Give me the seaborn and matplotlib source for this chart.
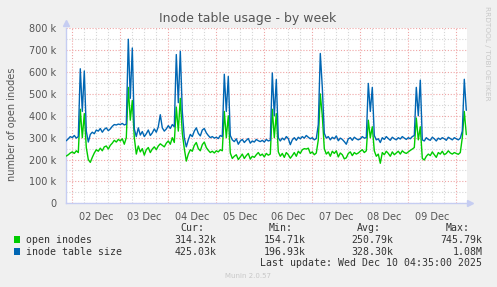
import matplotlib
matplotlib.use("Agg")
import matplotlib.pyplot as plt
import matplotlib.dates as mdates
from matplotlib.ticker import FuncFormatter, MultipleLocator
from matplotlib.patches import Rectangle
import numpy as np
import pandas as pd
import seaborn as sns

# ---------------- data (hourly, thousands of inodes) ----------------
start_time = "2025-12-01 21:00"
series_names = ["open inodes", "inode table size"]
series_colors = ["#00CC00", "#0066B3"]

# Dec 1 21:00-23:00, then Dec 2 ... Dec 9 (24 h each), then Dec 10 00:00-05:00
open_inodes = [
    216, 222, 230,
    # Dec 2
    235, 228, 240, 232, 430, 300, 410, 255, 200, 187, 210, 230,
    245, 238, 252, 240, 258, 262, 248, 265, 275, 288, 280, 292,
    # Dec 3
    285, 295, 270, 300, 530, 380, 470, 300, 225, 262, 235, 250,
    220, 245, 255, 232, 248, 258, 245, 262, 272, 265, 258, 275,
    # Dec 4
    285, 270, 300, 278, 440, 330, 480, 320, 250, 193, 225, 245,
    238, 265, 278, 250, 240, 268, 280, 255, 242, 232, 238, 230,
    # Dec 5
    240, 235, 245, 240, 420, 300, 400, 230, 205, 215, 222, 200,
    212, 225, 205, 218, 228, 202, 215, 210, 222, 232, 218, 225,
    # Dec 6
    212, 228, 220, 225, 430, 300, 410, 235, 215, 228, 210, 232,
    222, 206, 218, 232, 215, 238, 228, 245, 250, 248, 252, 228,
    # Dec 7
    235, 222, 230, 290, 500, 400, 250, 225, 235, 215, 238, 228,
    240, 212, 230, 222, 203, 208, 228, 235, 218, 232, 225, 230,
    # Dec 8
    238, 245, 232, 240, 380, 300, 350, 240, 215, 225, 183, 232,
    222, 238, 228, 215, 235, 222, 230, 238, 225, 240, 232, 228,
    # Dec 9
    235, 242, 248, 255, 390, 290, 350, 205, 198, 215, 225, 218,
    235, 222, 210, 232, 225, 238, 222, 228, 240, 230, 225, 232,
    # Dec 10
    228, 224, 232, 300, 420, 314,
]

inode_table_size = [
    286, 295, 305,
    # Dec 2
    300, 310, 298, 305, 615, 420, 605, 330, 280, 315, 325, 318,
    335, 330, 342, 325, 338, 345, 332, 340, 352, 360, 358, 362,
    # Dec 3
    360, 365, 358, 362, 750, 480, 710, 340, 305, 345, 312, 328,
    305, 318, 335, 310, 322, 340, 325, 350, 405, 345, 330, 340,
    # Dec 4
    355, 342, 360, 350, 680, 460, 695, 420, 300, 258, 290, 315,
    305, 330, 345, 320, 308, 335, 342, 322, 310, 300, 305, 298,
    # Dec 5
    302, 296, 310, 305, 590, 420, 580, 310, 290, 282, 295, 270,
    285, 292, 278, 288, 296, 275, 285, 280, 292, 286, 282, 288,
    # Dec 6
    280, 292, 285, 288, 596, 400, 566, 300, 285, 298, 290, 305,
    296, 268, 290, 300, 288, 302, 295, 305, 298, 310, 302, 295,
    # Dec 7
    300, 290, 296, 360, 685, 530, 320, 298, 305, 290, 302, 295,
    308, 286, 298, 292, 282, 270, 295, 300, 288, 302, 295, 290,
    # Dec 8
    295, 305, 298, 300, 548, 420, 530, 310, 290, 295, 278, 300,
    292, 305, 296, 288, 302, 295, 290, 300, 294, 305, 298, 292,
    # Dec 9
    300, 295, 305, 310, 530, 400, 563, 290, 285, 300, 292, 288,
    302, 295, 285, 298, 292, 300, 295, 288, 302, 296, 290, 300,
    # Dec 10
    295, 290, 298, 330, 567, 425,
]

legend_cur = ["314.32k", "425.03k"]
legend_min = ["154.71k", "196.93k"]
legend_avg = ["250.79k", "328.30k"]
legend_max = ["745.79k", "1.08M"]

title = "Inode table usage - by week"
y_label = "number of open inodes"
last_update = "Last update: Wed Dec 10 04:35:00 2025"

# ---------------- build frame ----------------
times = pd.date_range(start_time, periods=len(open_inodes), freq="h")
df = pd.concat([
    pd.DataFrame({"time": times, "value": np.array(open_inodes) * 1000.0, "series": series_names[0]}),
    pd.DataFrame({"time": times, "value": np.array(inode_table_size) * 1000.0, "series": series_names[1]}),
], ignore_index=True)

# ---------------- figure ----------------
sns.set_style("white")
plt.rcParams["font.family"] = ["DejaVu Sans"]

W, H = 497, 287
fig = plt.figure(figsize=(W / 100, H / 100), dpi=100)
fig.patch.set_facecolor("#F0F0F0")

def fx(px):
    return px / W

def fy(py):
    return 1 - py / H

ax_l, ax_r, ax_t, ax_b = 66, 467, 28.3, 203.3
ax = fig.add_axes([fx(ax_l), fy(ax_b), fx(ax_r - ax_l), (ax_b - ax_t) / H])
ax.set_facecolor("white")

sns.lineplot(data=df, x="time", y="value", hue="series",
             palette=dict(zip(series_names, series_colors)),
             hue_order=series_names, estimator=None, linewidth=1.0,
             legend=False, ax=ax, zorder=3)

day0 = pd.Timestamp("2025-12-02 00:00")
px_per_hour = 2.0
xmin = day0 - pd.Timedelta(hours=(72.3 - ax_l) / px_per_hour)
xmax = day0 + pd.Timedelta(hours=(ax_r - 72.3) / px_per_hour)
ax.set_xlim(xmin, xmax)
ax.set_ylim(0, 800000)

# grid
red = "#EFA5A5"
grey = "#D6D6D6"
dots = (0, (1, 1.6))
ax.yaxis.set_major_locator(MultipleLocator(100000))
ax.yaxis.set_minor_locator(MultipleLocator(50000))
ax.xaxis.set_major_locator(mdates.HourLocator(byhour=[0]))
ax.xaxis.set_minor_locator(mdates.HourLocator(byhour=[6, 12, 18]))

ax.grid(which="major", axis="both", color=red, linestyle=dots, linewidth=0.8, zorder=1)
ax.grid(which="minor", axis="both", color=grey, linestyle=dots, linewidth=0.8, zorder=0)
ax.set_axisbelow(True)

ax.yaxis.set_major_formatter(FuncFormatter(lambda v, p: "0" if v == 0 else f"{int(round(v / 1000))} k"))
ax.xaxis.set_major_formatter(FuncFormatter(lambda v, p: ""))

def minor_fmt(v, p):
    d = mdates.num2date(v)
    return d.strftime("%d Dec") if d.hour == 12 else ""

ax.xaxis.set_minor_formatter(FuncFormatter(minor_fmt))

txt = "#555555"
ax.tick_params(axis="y", which="major", labelsize=7, labelcolor=txt, length=2, color=red, pad=5)
ax.tick_params(axis="y", which="minor", length=2, color=grey)
ax.tick_params(axis="x", which="major", length=3, color=red, labelsize=7)
ax.tick_params(axis="x", which="minor", length=2, color=grey, labelsize=7, labelcolor=txt, pad=4)
ax.set_xlabel("")
ax.set_ylabel("")

axis_col = "#C6CDF2"
for s in ["top", "right"]:
    ax.spines[s].set_visible(False)
for s in ["left", "bottom"]:
    ax.spines[s].set_color(axis_col)
    ax.spines[s].set_linewidth(1.0)

# arrows at the axis ends
ax.plot([0], [1.03], marker="^", markersize=5, color=axis_col, transform=ax.transAxes, clip_on=False)
ax.plot([1.008], [0], marker=">", markersize=5, color=axis_col, transform=ax.transAxes, clip_on=False)

# texts
fig.text(fx(247.5), fy(18.5), title, ha="center", va="center", fontsize=9, color=txt)
fig.text(fx(12), fy(124), y_label, ha="center", va="center", rotation=90, fontsize=7, color=txt)
fig.text(fx(487), fy(53), "RRDTOOL / TOBI OETIKER", ha="center", va="center",
         rotation=270, fontsize=5.3, color="#C8C8C8")
fig.text(fx(248), fy(276.5), "Munin 2.0.57", ha="center", va="center", fontsize=5, color="#C8C8C8")

mono = {"family": "DejaVu Sans Mono", "fontsize": 7.1, "color": "#333333"}
row_y = [239.7, 251.7]
head_y = 227.7
col_val_right = [216.7, 305.7, 393.3, 482.3]
col_head_right = [204.0, 293.0, 381.0, 470.0]
for h, xr in zip(["Cur:", "Min:", "Avg:", "Max:"], col_head_right):
    fig.text(fx(xr), fy(head_y), h, ha="right", va="center", **mono)
for i, name in enumerate(series_names):
    fig.add_artist(Rectangle((fx(14), fy(row_y[i] + 3.2)), 6 / W, 6.4 / H,
                             transform=fig.transFigure, color=series_colors[i], lw=0))
    fig.text(fx(26), fy(row_y[i]), name, ha="left", va="center", **mono)
    for vals, xr in zip([legend_cur, legend_min, legend_avg, legend_max], col_val_right):
        fig.text(fx(xr), fy(row_y[i]), vals[i], ha="right", va="center", **mono)
fig.text(fx(482.3), fy(263.3), last_update, ha="right", va="center", **mono)

fig.savefig("out.png", dpi=100, facecolor=fig.get_facecolor())
